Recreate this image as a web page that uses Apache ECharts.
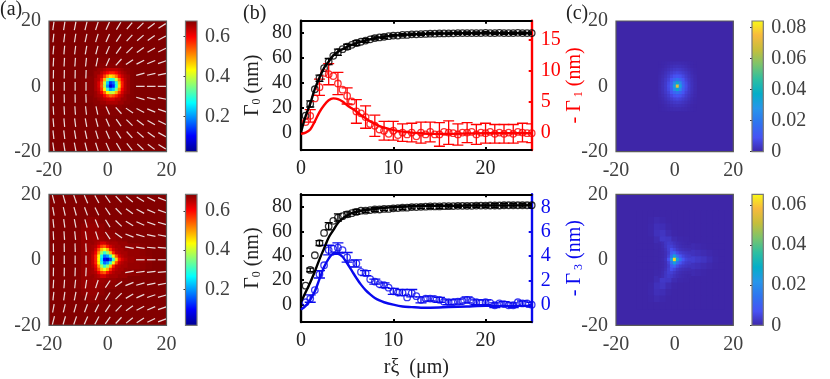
<!DOCTYPE html>
<html><head><meta charset="utf-8">
<script src="https://cdn.jsdelivr.net/npm/echarts@6/dist/echarts.min.js"></script>
<style>html,body{margin:0;padding:0;background:#fff}#c{width:830px;height:379px}</style>
</head><body><div id="c"></div>
<script>
// ---------- panel (a) scalar field, values x100 ----------
const a1Bg = 67.8, a2Bg = 68.3;
const a1HaloX = [-8,-6,-4,-2,0,2,4,6,8,10];
const a1HaloY = [8,6,4,2,0,-2,-4,-6,-8];
const a1Halo = [
 [68,68,68,67.5,67.5,67.5,67.5,68,68,68],
 [68,68,67.5,67,67,67,67,67.5,68,68],
 [68,67.5,67,67,67,67,67,67,67.5,68],
 [67.5,67,67,67,67,67,67,67,67.5,68],
 [67.5,67,67,67,67,67,67,67,67.5,68],
 [67.5,67,67,67,67,67,67,67,67.5,68],
 [68,67.5,67,67,67,67,67,67,67.5,68],
 [68,68,67.5,67,67,67,67,67.5,68,68],
 [68,68,68,67.5,67.5,67.5,67.5,68,68,68]];
const a1CoreX = [-4,-3,-2,-1,0,1,2,3,4,5,6,7];
const a1CoreY = [5,4,3,2,1,0,-1,-2,-3,-4,-5];
const a1Core = [
 [67,66,66,65,64,64,64,64,65,66,67,67],
 [66,66,64,62,60,58,58,60,63,65,66,67],
 [66,64,62,56,50,45,47,52,59,63,65,66],
 [65,64,58,48,35,29,30,40,52,60,64,66],
 [65,62,55,40,24,13,17,30,47,58,64,66],
 [65,62,54,38,20,7,13,28,45,58,64,66],
 [65,63,56,44,30,21,24,35,50,60,64,66],
 [66,64,60,53,44,39,40,48,56,62,65,66],
 [66,65,64,60,56,53,55,58,62,64,66,67],
 [67,66,65,64,63,62,62,64,64,66,66,67],
 [67,67,66,66,65,65,65,65,66,66,67,67]];
const a2HaloX = [-10,-8,-6,-4,-2,0,2,4,6,8,10,12,14];
const a2HaloY = [12,10,8,6,4,2,0,-2,-4,-6,-8,-10,-12];
const a2Halo = [
 [68.3,68.3,67.5,67.5,68.3,68.3,68.3,68.3,68.3,68.3,68.3,68.3,68.3],
 [68.3,67.5,67,67,67.5,68.3,68.3,68.3,68.3,68.3,68.3,68.3,68.3],
 [68,67,67,67,67,67.5,67.5,68.3,68.3,68.3,68.3,68.3,68.3],
 [68,67,67,66.5,66.5,67,67,67.5,68,68.3,68.3,68.3,68.3],
 [68,67,66.5,66,66,66.5,67,67,67,67.5,67.5,68,68.3],
 [68,67,66.5,66,65,65,66,66,66.5,67,67,67.5,68],
 [68,67,66.5,65,65,65,65,65,66,66.5,67,67,67.5],
 [68,67,66.5,66,65,65,66,66,66.5,67,67,67.5,68],
 [68,67,66.5,66,66,66.5,67,67,67,67.5,67.5,68,68.3],
 [68,67,67,66.5,66.5,67,67,67.5,68,68.3,68.3,68.3,68.3],
 [68,67,67,67,67,67.5,67.5,68.3,68.3,68.3,68.3,68.3,68.3],
 [68.3,67.5,67,67,67.5,68.3,68.3,68.3,68.3,68.3,68.3,68.3,68.3],
 [68.3,68.3,67.5,67.5,68.3,68.3,68.3,68.3,68.3,68.3,68.3,68.3,68.3]];
const a2CoreX = [-5,-4,-3,-2,-1,0,1,2,3,4,5,6];
const a2CoreY = [5,4,3,2,1,0,-1,-2,-3,-4,-5];
const a2Core = [
 [67,66,65,63,63,65,66,66,66,67,67,67],
 [66,65,61,56,54,59,63,65,66,66,67,67],
 [66,63,55,47,42,48,57,63,65,66,66,67],
 [65,61,50,37,30,36,47,58,64,65,66,66],
 [64,58,44,28,17,20,30,42,55,63,65,66],
 [64,58,43,25,10,6,14,30,46,58,63,65],
 [64,58,44,28,17,20,30,42,55,63,65,66],
 [65,61,50,37,30,36,47,58,64,65,66,66],
 [66,63,55,47,42,48,57,63,65,66,66,67],
 [66,65,61,56,54,59,63,65,66,66,67,67],
 [67,66,65,63,63,65,66,66,66,67,67,67]];

// ---------- director angles (degrees) ----------
const quiverX = [-18.5,-14.8,-11.1,-7.4,-3.7,0,3.7,7.4,11.1,14.8,18.5];
const quiverY = [18.5,14.8,11.1,7.4,3.7,0,-3.7,-7.4,-11.1,-14.8,-18.5];
const a1Angles = [
 [82,81,79,76,72,66,59,51,44,37,32],
 [84,83,81,78,73,66,57,48,41,35,29],
 [85,85,83,80,75,67,55,44,36,30,26],
 [87,87,86,84,78,66,48,34,27,22,19],
 [89,89,89,88,null,null,null,null,16,13,11],
 [90,90,90,90,null,null,null,null,0,0,0],
 [-89,-89,-89,-88,null,null,null,null,-16,-13,-11],
 [-87,-87,-86,-84,-78,-66,-48,-34,-27,-22,-19],
 [-85,-85,-83,-80,-75,-67,-55,-44,-36,-30,-26],
 [-84,-83,-81,-78,-73,-66,-57,-48,-41,-35,-29],
 [-82,-81,-79,-76,-72,-66,-59,-51,-44,-37,-32]];
const a2Angles = [
 [-76,-74,-71,-67,-62,-55,-47,-39,-32,-26,-21],
 [-80,-77,-74,-70,-64,-56,-46,-36,-28,-23,-19],
 [-84,-82,-79,-75,-68,-58,-44,-31,-24,-19,-16],
 [-87,-86,-84,-81,-72,-56,-36,-22,-16,-12,-11],
 [-89,-89,-88,-87,null,null,null,-10,-8,-6,-5],
 [90,90,90,90,null,null,null,null,0,0,0],
 [89,89,88,87,null,null,null,10,8,6,5],
 [87,86,84,81,72,56,36,22,16,12,11],
 [84,82,79,75,68,58,44,31,24,19,16],
 [80,77,74,70,64,56,46,36,28,23,19],
 [76,74,71,67,62,55,47,39,32,26,21]];

// ---------- panel (c) scalar field, values x1000 ----------
const c1CoreX = [-5,-4,-3,-2,-1,0,1,2,3,4,5,6,7];
const c1CoreY = [7,6,5,4,3,2,1,0,-1,-2,-3,-4,-5,-6,-7];
const c1Core = [
 [0,.2,.4,.7,.9,1,1.1,1,.9,.7,.4,.2,0],
 [0,.3,.7,1.2,1.8,2.2,2.4,2.2,1.8,1.2,.7,.3,0],
 [.2,.7,1.3,2.2,3,3.7,4,3.7,3,2.2,1.3,.7,.2],
 [.4,1,2.2,3.4,4.6,5.8,6.5,5.8,4.6,3.4,2.2,1,.4],
 [.7,1.6,3,4.7,7,9,10,9,7,4.7,3,1.6,.7],
 [.9,2.1,3.8,6,10,15,18,15,10,6,3.8,2.1,.9],
 [1,2.4,4.3,7.5,13,24,36,24,13,7.5,4.3,2.4,1],
 [1,2.5,4.5,8,15,32,72,32,15,8,4.5,2.5,1],
 [1,2.4,4.3,7.5,13,24,36,24,13,7.5,4.3,2.4,1],
 [.9,2.1,3.8,6,10,15,18,15,10,6,3.8,2.1,.9],
 [.7,1.6,3,4.7,7,9,10,9,7,4.7,3,1.6,.7],
 [.4,1,2.2,3.4,4.6,5.8,6.5,5.8,4.6,3.4,2.2,1,.4],
 [.2,.7,1.3,2.2,3,3.7,4,3.7,3,2.2,1.3,.7,.2],
 [0,.3,.7,1.2,1.8,2.2,2.4,2.2,1.8,1.2,.7,.3,0],
 [0,.2,.4,.7,.9,1,1.1,1,.9,.7,.4,.2,0]];
const c2HaloX = [-12,-10,-8,-6,-4,-2,0,2,4,6,8,10,12,14,16];
const c2HaloY = [14,12,10,8,6,4,2,0,-2,-4,-6,-8,-10,-12,-14];
const c2Halo = [
 [0,0,0,0,0,0,0,0,0,0,0,0,0,0,0],
 [0,0,.2,.8,.4,0,0,0,0,0,0,0,0,0,0],
 [0,0,.4,1.5,1.2,.3,0,0,0,0,0,0,0,0,0],
 [0,0,.3,1.8,2.4,1,.2,0,0,0,0,0,0,0,0],
 [0,0,0,1,3,2.6,1,.4,.2,0,0,0,0,0,0],
 [0,0,0,.3,2,4,3,1.6,1,.8,.5,.2,0,0,0],
 [0,0,0,.1,.7,3,8,4,2.6,2,1.5,1,.5,.1,0],
 [0,0,0,.1,.7,5,10,12,7,3.8,3,2.3,1.2,.3,0],
 [0,0,0,.1,.7,3,8,4,2.6,2,1.5,1,.5,.1,0],
 [0,0,0,.3,2,4,3,1.6,1,.8,.5,.2,0,0,0],
 [0,0,0,1,3,2.6,1,.4,.2,0,0,0,0,0,0],
 [0,0,.3,1.8,2.4,1,.2,0,0,0,0,0,0,0,0],
 [0,0,.4,1.5,1.2,.3,0,0,0,0,0,0,0,0,0],
 [0,0,.2,.8,.4,0,0,0,0,0,0,0,0,0,0],
 [0,0,0,0,0,0,0,0,0,0,0,0,0,0,0]];
const c2CoreX = [-5,-4,-3,-2,-1,0,1,2,3,4,5];
const c2CoreY = [5,4,3,2,1,0,-1,-2,-3,-4,-5];
const c2Core = [
 [.5,1.2,2.6,3.4,3,2,1.2,.8,.5,.3,.2],
 [.3,1,2.4,4,4.2,3,1.8,1.2,.8,.6,.5],
 [.2,.7,1.8,4,6.5,5,3,2,1.5,1.2,1],
 [.2,.5,1.4,3.5,9,11,6,4,3,2.5,2],
 [.2,.5,1.4,4.5,14,26,14,8,5,3.5,3],
 [.2,.7,2,7,24,62,26,14,8,5,4],
 [.2,.5,1.4,4.5,14,26,14,8,5,3.5,3],
 [.2,.5,1.4,3.5,9,11,6,4,3,2.5,2],
 [.2,.7,1.8,4,6.5,5,3,2,1.5,1.2,1],
 [.3,1,2.4,4,4.2,3,1.8,1.2,.8,.6,.5],
 [.5,1.2,2.6,3.4,3,2,1.2,.8,.5,.3,.2]];

// ---------- panel (b) measurements ----------
const rPoints = [.5,1,1.5,2,2.5,3,3.5,4,4.5,5,5.5,6,6.5,7,7.5,8,8.5,9,9.5,10,10.5,11,11.5,12,12.5,13,13.5,14,14.5,15,15.5,16,16.5,17,17.5,18,18.5,19,19.5,20,20.5,21,21.5,22,22.5,23,23.5,24,24.5,25];
const gamma0Top = [13.4,22.9,34.7,43.6,51.7,57,61.7,64.6,67,69,70.5,72,73,74,75,76,76.5,77,77.5,78,78,78.5,78.5,79,79,79.2,79.3,79.5,79.5,79.7,79.7,79.8,79.8,80,80,80,80,80,80,80.2,80,80,80.2,80,80,80,80.2,80,80,80];
const gamma1Top = [1.7,2.7,5.5,7.3,9.6,9.4,9.1,7.9,6.9,5.9,5,3.4,3.1,2.5,1.4,1.1,.5,.3,-.2,.3,-.4,0,-.3,0,-.6,0,-.3,.1,-.3,-.3,.1,0,-.1,-.3,0,0,.1,-.3,0,-.1,.1,-.2,0,-.2,0,-.2,.1,0,-.1,-.1];
const gamma0Bottom = [15.4,28.3,40.4,50.4,58.7,64.2,68.7,71.4,72.5,74,75,76,77,77,77.5,78,78,78.5,78.5,79,79.2,79.5,79.5,80,80,80.2,80.3,80.5,80.5,80.5,80.7,80.7,80.8,81,81,81,81,81.2,81.2,81.2,81.3,81.3,81.3,81.5,81.5,81.5,81.5,81.5,81.5,81.5];
const gamma3Bottom = [.2,.5,1.2,2.5,3.25,4.5,4.6,4.7,4.5,3.9,3.4,3.4,2.7,2.6,2.1,1.9,1.7,1.6,1.4,1.1,1,1,.6,.95,.7,.4,.5,.5,.45,.4,.25,.2,.2,.25,.3,.4,.3,.2,.15,.2,.15,-.05,.1,.05,-.05,-.05,.2,.1,.1,0];
// error half-heights at r = 1, 2, ... 25
const errR = [1,2,3,4,5,6,7,8,9,10,11,12,13,14,15,16,17,18,19,20,21,22,23,24,25];
const errGamma0Top = [2.5,2.5,2.5,2.5,2,2,1.5,1.5,1.5,1,1,1,1,1,1,1,1,1,1,1,1,1,1,1,1];
const errGamma1Top = [1,1.3,1.7,1.8,1.3,1.9,1.8,1.7,1.5,1.5,1.4,1.5,1.7,1.6,1.9,1.9,1.7,1.6,1.6,1.6,1.5,1.5,1.5,1.5,1.5];
const errGamma0Bottom = [1.5,2,3,3,2,2,1.5,1.5,1.5,1.5,1.5,1.5,1.5,1.5,1.5,1.5,1.5,1.5,1.5,1.5,1.5,1.5,1.5,1.5,1.5];
const errGamma3Bottom = [.3,.3,.4,.4,.4,.3,.2,.2,.2,.25,.25,.3,.25,.2,.2,.2,.2,.25,.2,.2,.2,.2,.2,.2,.2];
// fitted curves
const rFit = [0,.5,1,1.5,2,2.5,3,3.5,4,4.5,5,5.5,6,6.5,7,7.5,8,8.5,9,10,11,12,13,14,16,18,20,25];
const fit0Top = [0,13,23,35,44,52,57,62,65,67,69,70.5,72,73,74,75,76,76.5,77,78,78.5,79,79.3,79.5,79.8,80,80,80];
const fit1Top = [-.2,0,.5,1.8,3.3,4.4,5.2,5.5,5.4,5,4.4,3.9,3.4,2.8,2.3,1.8,1.4,1.05,.8,.4,.15,0,-.1,-.2,-.2,-.15,-.1,-.1];
const fit0Bottom = [2,10,18,27,37,46,55,61,67,70.5,73,75,76,77,77.5,78,78.5,79,79.3,80,80.3,80.6,80.8,81,81,81.2,81.3,81.5];
const fit3Bottom = [-.4,-.1,.4,1.1,2.1,3.1,3.8,4.2,4.2,3.95,3.4,2.8,2.2,1.65,1.2,.85,.55,.35,.2,0,-.15,-.2,-.25,-.25,-.2,-.15,-.1,-.1];

// ---------- axes ----------
const rTicks = [0,10,20];
const gamma0Ticks = [0,20,40,60,80];
const gamma1Ticks = [0,5,10,15];
const gamma3Ticks = [0,2,4,6,8];
const cbarATicks = [.2,.4,.6];
const cbarC1Ticks = [0,.02,.04,.06,.08];
const cbarC2Ticks = [0,.02,.04,.06];
const jetColors = ['#00008f','#0000ff','#0080ff','#00ffff','#80ff80','#ffff00','#ff8000','#ff0000','#800000'];
const parulaColors = ['#3e26a8','#4752f4','#2f74f0','#2796eb','#05aec8','#2fbfa0','#7cc46b','#c6be3b','#f8ba3d','#f9fb15'];

const FONT = '"Liberation Serif","Times New Roman",serif';
const FS = 20, GREY = '#404040', FRAME = '#5a5a5a', RED = '#ff0000', BLUE = '#0a0aee', BLK = '#000';
const grids=[], xAxes=[], yAxes=[], series=[], visualMaps=[];

function layer(cells, xs, ys, rows, size, scale){
  rows.forEach((row,j)=>row.forEach((v,i)=>cells.push([xs[i],ys[j],size,v/scale])));
}
function addAxisPair(rect, xOpt, yOpt){
  const g=grids.length;
  grids.push({left:rect[0],top:rect[1],width:rect[2]-rect[0],height:rect[3]-rect[1]});
  xAxes.push(Object.assign({gridIndex:g,type:'value',splitLine:{show:false}},xOpt));
  yAxes.push(Object.assign({gridIndex:g,type:'value',splitLine:{show:false}},yOpt));
  return {g,xi:xAxes.length-1,yi:yAxes.length-1};
}
function cellItem(p,api){
  const c=api.coord([api.value(0),api.value(1)]), s=api.size([api.value(2),api.value(2)]);
  return {type:'rect',shape:{x:c[0]-s[0]/2-.3,y:c[1]-s[1]/2-.3,width:s[0]+.6,height:s[1]+.6},
    style:{fill:api.visual('color')}};
}
function frameItem(color,lw){ return function(p,api){
  const a=api.coord([api.value(0),api.value(1)]), b=api.coord([api.value(2),api.value(3)]);
  return {type:'rect',shape:{x:a[0],y:a[1],width:b[0]-a[0],height:b[1]-a[1]},
    style:{fill:'none',stroke:color,lineWidth:lw}};
};}
const labelStyle=(c,m)=>({color:c,fontFamily:FONT,fontSize:FS,margin:m});

function fieldPanel(rect,cells,colors,vmin,vmax,angles){
  const ax=addAxisPair(rect,
    {min:-20,max:20,interval:20,axisLine:{show:false},axisTick:{show:false},axisLabel:labelStyle(GREY,9)},
    {min:-20,max:20,interval:20,axisLine:{show:false},axisTick:{show:false},axisLabel:labelStyle(GREY,8)});
  const idx=series.length;
  series.push({type:'custom',xAxisIndex:ax.xi,yAxisIndex:ax.yi,coordinateSystem:'cartesian2d',clip:true,
    renderItem:cellItem,data:cells,silent:true,animation:false,encode:{x:0,y:1}});
  visualMaps.push({type:'continuous',show:false,seriesIndex:idx,dimension:3,min:vmin,max:vmax,inRange:{color:colors}});
  if(angles){
    const q=[]; angles.forEach((row,j)=>row.forEach((d,i)=>{ if(d!==null) q.push([quiverX[i],quiverY[j],d]); }));
    series.push({type:'custom',xAxisIndex:ax.xi,yAxisIndex:ax.yi,coordinateSystem:'cartesian2d',silent:true,animation:false,
      data:q,encode:{x:0,y:1},renderItem(p,api){
        const c=api.coord([api.value(0),api.value(1)]), t=api.value(2)*Math.PI/180, L=4.3;
        return {type:'line',shape:{x1:c[0]-L*Math.cos(t),y1:c[1]+L*Math.sin(t),x2:c[0]+L*Math.cos(t),y2:c[1]-L*Math.sin(t)},
          style:{stroke:'#ecdcdc',lineWidth:1.2}};
      }});
  }
  series.push({type:'custom',xAxisIndex:ax.xi,yAxisIndex:ax.yi,coordinateSystem:'cartesian2d',clip:false,silent:true,animation:false,
    data:[[-20,20,20,-20]],renderItem:frameItem(FRAME,1.2)});
}
function colorbar(rect,colors,vmin,vmax,ticks,tickFmt){
  const ax=addAxisPair(rect,{min:0,max:1,show:false},
    {min:vmin,max:vmax,position:'right',axisLine:{show:false},
     axisTick:{show:true,inside:true,length:2,lineStyle:{color:'#333'},customValues:ticks},
     axisLabel:Object.assign(labelStyle(GREY,8),{customValues:ticks,formatter:tickFmt})});
  const stops=colors.map((c,i)=>({offset:i/(colors.length-1),color:c}));
  series.push({type:'custom',xAxisIndex:ax.xi,yAxisIndex:ax.yi,coordinateSystem:'cartesian2d',clip:false,silent:true,animation:false,
    data:[[0,vmax,1,vmin]],z:1,renderItem(p,api){
      const a=api.coord([api.value(0),api.value(1)]), b=api.coord([api.value(2),api.value(3)]);
      return {type:'rect',shape:{x:a[0],y:a[1],width:b[0]-a[0],height:b[1]-a[1]},
        style:{fill:new echarts.graphic.LinearGradient(0,1,0,0,stops),stroke:'#777',lineWidth:1.2}};
    }});
}
function errSeries(xi,yi,ys,errs,color,capPx){
  const data=errR.map((r,i)=>[r,ys[rPoints.indexOf(r)],errs[i]]);
  return {type:'custom',xAxisIndex:xi,yAxisIndex:yi,coordinateSystem:'cartesian2d',silent:true,animation:false,clip:true,
    data,encode:{x:0,y:1},renderItem(p,api){
      const x=api.value(0),y=api.value(1),e=api.value(2);
      const a=api.coord([x,y+e]),b=api.coord([x,y-e]);
      const st={stroke:color,lineWidth:1.3};
      return {type:'group',children:[
        {type:'line',shape:{x1:a[0],y1:a[1],x2:b[0],y2:b[1]},style:st},
        {type:'line',shape:{x1:a[0]-capPx,y1:a[1],x2:a[0]+capPx,y2:a[1]},style:st},
        {type:'line',shape:{x1:b[0]-capPx,y1:b[1],x2:b[0]+capPx,y2:b[1]},style:st}]};
    }};
}
const nameRich=(c)=>({a:{color:c,fontFamily:FONT,fontSize:FS},s:{color:c,fontFamily:FONT,fontSize:12,verticalAlign:'bottom',padding:[8,0,0,0]}});

function profilePanel(rect,lim0,limR,ticksR,color,nameR,ys0,ysR,err0,errRight,fit0,fitR,withX){
  const g=grids.length;
  grids.push({left:rect[0],top:rect[1],width:rect[2]-rect[0],height:rect[3]-rect[1]});
  const xi=xAxes.length;
  const line=(c,w)=>({onZero:false,lineStyle:{color:c,width:w}});
  xAxes.push({gridIndex:g,type:'value',min:0,max:25,position:'bottom',splitLine:{show:false},
    axisLine:line(BLK,2),
    axisTick:{inside:true,length:3,lineStyle:{color:BLK,width:2},customValues:rTicks},
    axisLabel:Object.assign(labelStyle('#222',9),{customValues:rTicks}),
    name:withX?'r\u03be  (\u03bcm)':'',nameLocation:'middle',nameGap:36,nameTextStyle:{color:'#222',fontFamily:FONT,fontSize:FS}});
  xAxes.push({gridIndex:g,type:'value',min:0,max:25,position:'top',splitLine:{show:false},
    axisLine:line(BLK,2),
    axisTick:{inside:true,length:3,lineStyle:{color:BLK,width:2},customValues:rTicks},
    axisLabel:{show:false}});
  const yi=yAxes.length;
  yAxes.push({gridIndex:g,type:'value',min:lim0[0],max:lim0[1],position:'left',splitLine:{show:false},
    axisLine:line(BLK,2.4),
    axisTick:{inside:true,length:3,lineStyle:{color:BLK,width:2},customValues:gamma0Ticks},
    axisLabel:Object.assign(labelStyle('#222',9),{customValues:gamma0Ticks}),
    name:'{a|\u0393}{s|0}{a| (nm)}',nameLocation:'middle',nameRotate:90,nameGap:38,nameTextStyle:{rich:nameRich('#222')}});
  yAxes.push({gridIndex:g,type:'value',min:limR[0],max:limR[1],position:'right',splitLine:{show:false},
    axisLine:line(color,2.4),
    axisTick:{inside:true,length:3,lineStyle:{color:color,width:2},customValues:ticksR},
    axisLabel:Object.assign(labelStyle(color,9),{customValues:ticksR}),
    name:nameR,nameLocation:'middle',nameRotate:90,nameGap:33,nameTextStyle:{rich:nameRich(color)}});
  const pts=(a)=>rPoints.map((r,i)=>[r,a[i]]);
  const crv=(a)=>rFit.map((r,i)=>[r,a[i]]);
  const circ=(c)=>({symbol:'circle',symbolSize:6.5,itemStyle:{color:'rgba(0,0,0,0)',borderColor:c,borderWidth:1.3}});
  series.push({type:'line',xAxisIndex:xi,yAxisIndex:yi,data:crv(fit0),smooth:.3,showSymbol:false,silent:true,animation:false,lineStyle:{color:BLK,width:2.4}});
  series.push(errSeries(xi,yi,ys0,err0,BLK,4));
  series.push(Object.assign({type:'scatter',xAxisIndex:xi,yAxisIndex:yi,data:pts(ys0),silent:true,animation:false},circ(BLK)));
  series.push({type:'line',xAxisIndex:xi,yAxisIndex:yi+1,data:crv(fitR),smooth:.3,showSymbol:false,silent:true,animation:false,lineStyle:{color:color,width:2.4}});
  series.push(errSeries(xi,yi+1,ysR,errRight,color,5.5));
  series.push(Object.assign({type:'scatter',xAxisIndex:xi,yAxisIndex:yi+1,data:pts(ysR),silent:true,animation:false},circ(color)));
}

// panel (a)
const a1Cells=[[0,0,40,a1Bg/100]]; layer(a1Cells,a1HaloX,a1HaloY,a1Halo,2,100); layer(a1Cells,a1CoreX,a1CoreY,a1Core,1,100);
const a2Cells=[[0,0,40,a2Bg/100]]; layer(a2Cells,a2HaloX,a2HaloY,a2Halo,2,100); layer(a2Cells,a2CoreX,a2CoreY,a2Core,1,100);
fieldPanel([49,21,166.5,151.7],a1Cells,jetColors,.025,.678,a1Angles);
fieldPanel([49,194.3,166.5,325.3],a2Cells,jetColors,.016,.685,a2Angles);
const fmt1=v=>v.toFixed(1), fmtC=v=>v===0?'0':String(+v.toFixed(2));
colorbar([185.5,21,197,151.7],jetColors,.025,.678,cbarATicks,fmt1);
colorbar([185.5,194.3,197,325.3],jetColors,.016,.685,cbarATicks,fmt1);
// panel (b)
profilePanel([301,20.7,531.7,150],[-14.3,90],[-2.8,18],gamma1Ticks,RED,'{a|- \u0393}{s| 1}{a| (nm)}',gamma0Top,gamma1Top,errGamma0Top,errGamma1Top,fit0Top,fit1Top,false);
profilePanel([301,194.3,531.7,324.3],[-14.5,90.5],[-1.43,9.1],gamma3Ticks,BLUE,'{a|- \u0393}{s| 3}{a| (nm)}',gamma0Bottom,gamma3Bottom,errGamma0Bottom,errGamma3Bottom,fit0Bottom,fit3Bottom,true);
// panel (c)
const c1Cells=[[0,0,40,0]]; layer(c1Cells,c1CoreX,c1CoreY,c1Core,1,1000);
const c2Cells=[[0,0,40,0]]; layer(c2Cells,c2HaloX,c2HaloY,c2Halo,2,1000); layer(c2Cells,c2CoreX,c2CoreY,c2Core,1,1000);
fieldPanel([616,21,733.3,151.7],c1Cells,parulaColors,0,.0843,null);
fieldPanel([616,194.3,733.3,325.3],c2Cells,parulaColors,0,.0653,null);
colorbar([752,21,763.3,151.7],parulaColors,0,.0843,cbarC1Ticks,fmtC);
colorbar([752,194.3,763.3,325.3],parulaColors,0,.0653,cbarC2Ticks,fmtC);

const tt=(t,l,top)=>({text:t,left:l,top:top,padding:0,textStyle:{color:'#222',fontFamily:FONT,fontSize:FS,fontWeight:'normal'}});
const chart=echarts.init(document.getElementById('c'),null,{renderer:'canvas'});
chart.setOption({animation:false,backgroundColor:'#fff',
  title:[tt('(a)',0,0),tt('(b)',243,4),tt('(c)',566,4)],
  grid:grids,xAxis:xAxes,yAxis:yAxes,visualMap:visualMaps,series:series});
</script></body></html>
